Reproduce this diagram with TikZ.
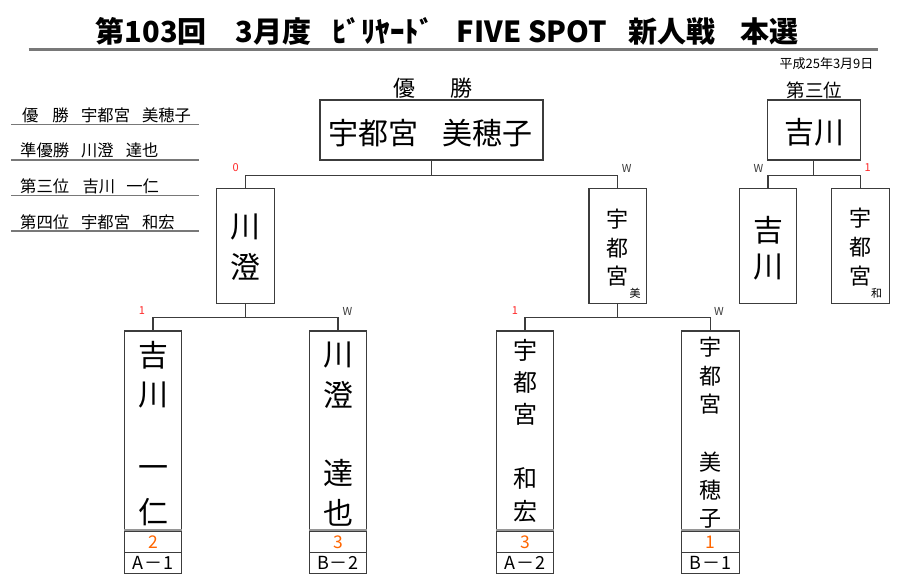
\documentclass[tikz,border=0pt]{standalone}
\usepackage{fontspec}
\setmainfont{Noto Sans CJK JP}
\definecolor{lc}{RGB}{60,60,60}
\definecolor{ulc}{RGB}{120,120,120}
\definecolor{divc}{RGB}{150,150,150}
\definecolor{redc}{RGB}{255,40,40}
\definecolor{orangec}{RGB}{255,102,0}
\definecolor{wc}{RGB}{60,60,60}
\newcommand{\fs}[1]{\fontsize{#1}{#1}\selectfont}
\begin{document}
\begin{tikzpicture}[x=1pt,y=-1pt,
  box/.style={draw=lc, line width=1.1pt, inner sep=0pt, fill=white},
  conn/.style={draw=lc, line width=1.1pt},
  txt/.style={inner sep=0pt, text=black},
  big/.style={txt, font=\fs{30}},
  mid/.style={txt, font=\fs{22}},
  midb/.style={txt, font=\fs{24}},
  tiny/.style={txt, font=\fs{11}},
  redmark/.style={tiny, text=redc},
  wmark/.style={tiny, text=wc},
  listtxt/.style={txt, font=\fs{16.3}, anchor=west},
  listline/.style={draw=ulc, line width=1.3pt},
  scorecell/.style={box, minimum width=57.4pt, minimum height=21.6pt, font=\fs{17.5}, text=orangec},
  labcell/.style={box, minimum width=57.4pt, minimum height=21pt, font=\fs{18}},
  namecell/.style={box, minimum width=57.4pt, minimum height=199.7pt},
  semibox/.style={box, minimum width=57.4pt, minimum height=114.3pt},
  graydiv/.style={draw=divc, line width=2pt}
]
\useasboundingbox[fill=white] (0,0) rectangle (900,587);

% title
\node[txt, font=\fs{29}\bfseries] (title) at (444.85,31.7)
 {\makebox[119pt]{第103回}\hspace{24pt}\makebox[78pt]{3月度}\hspace{23.7pt}\makebox[93.3pt]{ﾋﾞﾘﾔｰﾄﾞ}\hspace{29.3pt}\makebox[145.7pt]{FIVE SPOT}\hspace{23.3pt}\makebox[88.4pt]{新人戦}\hspace{25pt}\makebox[56.6pt]{本選}};
\coordinate (ul1) at (28.5,49.5);
\coordinate (ul2) at (878.3,49.5);
\draw[draw=ulc, line width=2.4pt] (ul1) -- (ul2);

% date
\node[txt, font=\fs{13}] (date) at (826.5,64) {平成25年3月9日};

% left list
\node[listtxt] (l1) at (20,115.8) {\makebox[61pt][l]{\hspace{2pt}優\hspace{14pt}勝}宇都宮\hspace{12pt}美穂子};
\node[listtxt] (l2) at (20,150.8) {\makebox[61pt][l]{準優勝}川澄\hspace{12pt}達也};
\node[listtxt] (l3) at (20,186) {\makebox[61pt][l]{第三位}\hspace{1.5pt}吉川\hspace{11pt}一仁};
\node[listtxt] (l4) at (20,222.5) {\makebox[61pt][l]{第四位}宇都宮\hspace{12pt}和宏};
\coordinate (la1) at (11,124.3); \coordinate (lb1) at (199,124.3);
\coordinate (la2) at (11,160);   \coordinate (lb2) at (199,160);
\coordinate (la3) at (11,195.7); \coordinate (lb3) at (199,195.7);
\coordinate (la4) at (11,231);   \coordinate (lb4) at (199,231);
\draw[listline] (la1) -- (lb1);
\draw[listline] (la2) -- (lb2);
\draw[listline] (la3) -- (lb3);
\draw[listline] (la4) -- (lb4);

% headings
\node[txt, font=\fs{22}] (hwin) at (433,88) {優\hspace{35pt}勝};
\node[txt, font=\fs{18.5}] (hthird) at (814.5,90) {第三位};

% final box
\node[box, minimum width=223pt, minimum height=60pt] (fin) at (431.5,130) {};
\node[txt, font=\fs{30}] (fint) at (430.5,133.5) {宇都宮\hspace{25pt}美穂子};

% third place box
\node[box, minimum width=93.7pt, minimum height=60pt] (thr) at (813.9,130) {};
\node[txt, font=\fs{30}] (thrt) at (814,132) {吉川};

% semifinal boxes
\node[semibox] (sf1) at (245.5,246) {};
\node[semibox] (sf2) at (617.7,246) {};
\node[semibox] (tp1) at (768,246) {};
\node[semibox] (tp2) at (860.5,246) {};

\node[big] (sf1a) at (245.5,227) {川};
\node[big] (sf1b) at (245.5,267) {澄};
\node[mid] (sf2a) at (617,219) {宇};
\node[mid] (sf2b) at (617,248) {都};
\node[mid] (sf2c) at (617,276) {宮};
\node[tiny] (sf2d) at (635,293) {美};
\node[big] (tp1a) at (768,230) {吉};
\node[big] (tp1b) at (768,267) {川};
\node[mid] (tp2a) at (860,218) {宇};
\node[mid] (tp2b) at (860,247) {都};
\node[mid] (tp2c) at (860,276) {宮};
\node[tiny] (tp2d) at (876.7,293) {和};

% bottom boxes
\foreach \n/\x/\s/\a/\b in {n1/153/2/A/1, n2/338/3/B/2, n3/525/3/A/2, n4/710.5/1/B/1}{
  \node[namecell] (\n) at (\x,430.85) {};
  \node[scorecell] (\n s) at (\x,541.8) {\s};
  \node[labcell] (\n l) at (\x,562.8) {\a\hspace{1pt}－\hspace{1pt}\b};
  \draw[graydiv] (\n s.north west) -- (\n s.north east);
}
\foreach \c/\yy in {吉/355,川/395,一/472,仁/512}{\node[big] (n1-\yy) at (153,\yy) {\c};}
\foreach \c/\yy in {川/355,澄/395,達/473,也/513}{\node[big] (n2-\yy) at (338,\yy) {\c};}
\foreach \c/\yy in {宇/350,都/382,宮/414,和/478,宏/511}{\node[midb] (n3-\yy) at (525,\yy) {\c};}
\foreach \c/\yy in {宇/347,都/376,宮/404.5,美/462,穂/490.5,子/519}{\node[mid] (n4-\yy) at (710.5,\yy) {\c};}

% connectors
\draw[conn] (fin.south) -- ++(0,14.5) coordinate (j1);
\draw[conn] (j1) -| (sf1.north);
\draw[conn] (j1) -| (sf2.north);
\draw[conn] (thr.south) -- ++(0,14.5) coordinate (j3);
\draw[conn] (j3) -| (tp1.north);
\draw[conn] (j3) -| (tp2.north);
\draw[conn] (sf1.south) -- ++(0,13.7) coordinate (j2);
\draw[conn] (j2) -| (n1.north);
\draw[conn] (j2) -| (n2.north);
\draw[conn] (sf2.south) -- ++(0,13.7) coordinate (j4);
\draw[conn] (j4) -| (n3.north);
\draw[conn] (j4) -| (n4.north);

% marks
\node[redmark] (m1) at (235.7,168) {0};
\node[wmark] (m2) at (626.7,168) {W};
\node[wmark] (m3) at (758.5,168) {W};
\node[redmark] (m4) at (867.7,168) {1};
\node[redmark] (m5) at (142,311) {1};
\node[wmark] (m6) at (347.5,311) {W};
\node[redmark] (m7) at (515,311) {1};
\node[wmark] (m8) at (719,311) {W};
\end{tikzpicture}
\end{document}
